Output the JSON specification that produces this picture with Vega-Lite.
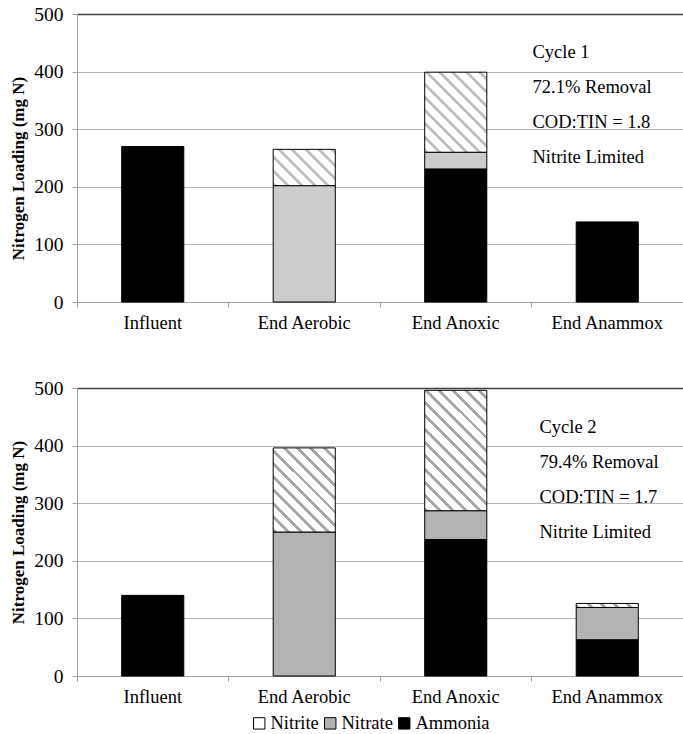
{
  "$schema": "https://vega.github.io/schema/vega-lite/v6.json",
  "background": "white",
  "padding": {"left": 9, "top": 4, "right": 0, "bottom": 0},
  "spacing": 46,
  "datasets": {
    "bars": [
      {"Cycle": "Cycle 1", "Stage": "Influent", "Species": "Ammonia", "Value": 270},
      {"Cycle": "Cycle 1", "Stage": "End Aerobic", "Species": "Nitrate", "Value": 202},
      {"Cycle": "Cycle 1", "Stage": "End Aerobic", "Species": "Nitrite", "Value": 63},
      {"Cycle": "Cycle 1", "Stage": "End Anoxic", "Species": "Ammonia", "Value": 231},
      {"Cycle": "Cycle 1", "Stage": "End Anoxic", "Species": "Nitrate", "Value": 29},
      {"Cycle": "Cycle 1", "Stage": "End Anoxic", "Species": "Nitrite", "Value": 139},
      {"Cycle": "Cycle 1", "Stage": "End Anammox", "Species": "Ammonia", "Value": 139},
      {"Cycle": "Cycle 2", "Stage": "Influent", "Species": "Ammonia", "Value": 140},
      {"Cycle": "Cycle 2", "Stage": "End Aerobic", "Species": "Nitrate", "Value": 250},
      {"Cycle": "Cycle 2", "Stage": "End Aerobic", "Species": "Nitrite", "Value": 146},
      {"Cycle": "Cycle 2", "Stage": "End Anoxic", "Species": "Ammonia", "Value": 237},
      {"Cycle": "Cycle 2", "Stage": "End Anoxic", "Species": "Nitrate", "Value": 50},
      {"Cycle": "Cycle 2", "Stage": "End Anoxic", "Species": "Nitrite", "Value": 209},
      {"Cycle": "Cycle 2", "Stage": "End Anammox", "Species": "Ammonia", "Value": 63},
      {"Cycle": "Cycle 2", "Stage": "End Anammox", "Species": "Nitrate", "Value": 56},
      {"Cycle": "Cycle 2", "Stage": "End Anammox", "Species": "Nitrite", "Value": 7}
    ],
    "notes": [
      {"Cycle": "Cycle 1", "Note": "Cycle 1\n72.1% Removal\nCOD:TIN = 1.8\nNitrite Limited"},
      {"Cycle": "Cycle 2", "Note": "Cycle 2\n79.4% Removal\nCOD:TIN = 1.7\nNitrite Limited"}
    ]
  },
  "vconcat": [
    {
      "width": 606,
      "height": 288,
      "layer": [
        {
          "data": {"name": "bars"},
          "transform": [{"filter": "datum.Cycle === 'Cycle 1'"}],
          "mark": {"type": "bar", "width": {"band": 0.41}, "stroke": "black", "strokeWidth": 1},
          "encoding": {
            "x": {
              "field": "Stage", "type": "nominal",
              "sort": ["Influent", "End Aerobic", "End Anoxic", "End Anammox"],
              "scale": {"paddingInner": 0, "paddingOuter": 0},
              "axis": {"title": null, "labelAngle": 0, "labelFontSize": 18.5, "labelPadding": 6, "tickSize": 5, "bandPosition": 0, "grid": false}
            },
            "y": {
              "field": "Value", "type": "quantitative", "stack": "zero",
              "scale": {"domain": [0, 500]},
              "axis": {
                "title": "Nitrogen Loading (mg N)", "values": [0, 100, 200, 300, 400, 500],
                "labelFontSize": 19.5, "labelPadding": 9, "tickSize": 5,
                "titleFontSize": 17, "titleFontWeight": "bold", "titlePadding": 6, "titleY": 154,
                "grid": true,
                "gridColor": {"condition": {"test": "datum.value === 500", "value": "#404040"}, "value": "#b0b0b0"},
                "gridWidth": {"condition": {"test": "datum.value === 500", "value": 1.5}, "value": 1}
              }
            },
            "order": {"field": "Species", "sort": "ascending"},
            "fill": {
              "field": "Species", "type": "nominal",
              "scale": {"domain": ["Nitrite", "Nitrate", "Ammonia"], "range": ["#ffffff", "#b3b3b3", "#000000"]},
              "legend": {"orient": "none", "legendX": 173, "legendY": 700, "direction": "horizontal", "title": null, "symbolType": "square", "symbolSize": 130, "symbolStrokeColor": "black", "symbolStrokeWidth": 1, "labelFontSize": 18.5, "labelFont": "Liberation Serif, Tinos, Times New Roman, Times, serif", "labelColor": "black", "columnPadding": 2, "labelOffset": 2},
              "condition": [
                {"test": "datum.Species === 'Nitrite' && datum.Stage === 'End Aerobic'", "value": {"gradient": "linear", "x1": 0, "y1": 1, "x2": 2.2348, "y2": -0.3063, "stops": [
                  {"offset": 0, "color": "#bfbfbf"}, {"offset": 0.0214, "color": "#bfbfbf"}, {"offset": 0.0214, "color": "#ffffff"}, {"offset": 0.0714, "color": "#ffffff"},
                  {"offset": 0.0714, "color": "#bfbfbf"}, {"offset": 0.0929, "color": "#bfbfbf"}, {"offset": 0.0929, "color": "#ffffff"}, {"offset": 0.1429, "color": "#ffffff"},
                  {"offset": 0.1429, "color": "#bfbfbf"}, {"offset": 0.1643, "color": "#bfbfbf"}, {"offset": 0.1643, "color": "#ffffff"}, {"offset": 0.2143, "color": "#ffffff"},
                  {"offset": 0.2143, "color": "#bfbfbf"}, {"offset": 0.2357, "color": "#bfbfbf"}, {"offset": 0.2357, "color": "#ffffff"}, {"offset": 0.2857, "color": "#ffffff"},
                  {"offset": 0.2857, "color": "#bfbfbf"}, {"offset": 0.3071, "color": "#bfbfbf"}, {"offset": 0.3071, "color": "#ffffff"}, {"offset": 0.3571, "color": "#ffffff"},
                  {"offset": 0.3571, "color": "#bfbfbf"}, {"offset": 0.3786, "color": "#bfbfbf"}, {"offset": 0.3786, "color": "#ffffff"}, {"offset": 0.4286, "color": "#ffffff"},
                  {"offset": 0.4286, "color": "#bfbfbf"}, {"offset": 0.45, "color": "#bfbfbf"}, {"offset": 0.45, "color": "#ffffff"}, {"offset": 0.5, "color": "#ffffff"},
                  {"offset": 0.5, "color": "#bfbfbf"}, {"offset": 0.5214, "color": "#bfbfbf"}, {"offset": 0.5214, "color": "#ffffff"}, {"offset": 0.5714, "color": "#ffffff"},
                  {"offset": 0.5714, "color": "#bfbfbf"}, {"offset": 0.5929, "color": "#bfbfbf"}, {"offset": 0.5929, "color": "#ffffff"}, {"offset": 0.6429, "color": "#ffffff"},
                  {"offset": 0.6429, "color": "#bfbfbf"}, {"offset": 0.6643, "color": "#bfbfbf"}, {"offset": 0.6643, "color": "#ffffff"}, {"offset": 0.7143, "color": "#ffffff"},
                  {"offset": 0.7143, "color": "#bfbfbf"}, {"offset": 0.7357, "color": "#bfbfbf"}, {"offset": 0.7357, "color": "#ffffff"}, {"offset": 0.7857, "color": "#ffffff"},
                  {"offset": 0.7857, "color": "#bfbfbf"}, {"offset": 0.8071, "color": "#bfbfbf"}, {"offset": 0.8071, "color": "#ffffff"}, {"offset": 0.8571, "color": "#ffffff"},
                  {"offset": 0.8571, "color": "#bfbfbf"}, {"offset": 0.8786, "color": "#bfbfbf"}, {"offset": 0.8786, "color": "#ffffff"}, {"offset": 0.9286, "color": "#ffffff"},
                  {"offset": 0.9286, "color": "#bfbfbf"}, {"offset": 0.95, "color": "#bfbfbf"}, {"offset": 0.95, "color": "#ffffff"}, {"offset": 1, "color": "#ffffff"}
                ]}},
                {"test": "datum.Species === 'Nitrite' && datum.Stage === 'End Anoxic'", "value": {"gradient": "linear", "x1": 0, "y1": 1, "x2": 1.1256, "y2": -0.4519, "stops": [
                  {"offset": 0, "color": "#bfbfbf"}, {"offset": 0.0214, "color": "#bfbfbf"}, {"offset": 0.0214, "color": "#ffffff"}, {"offset": 0.0714, "color": "#ffffff"},
                  {"offset": 0.0714, "color": "#bfbfbf"}, {"offset": 0.0929, "color": "#bfbfbf"}, {"offset": 0.0929, "color": "#ffffff"}, {"offset": 0.1429, "color": "#ffffff"},
                  {"offset": 0.1429, "color": "#bfbfbf"}, {"offset": 0.1643, "color": "#bfbfbf"}, {"offset": 0.1643, "color": "#ffffff"}, {"offset": 0.2143, "color": "#ffffff"},
                  {"offset": 0.2143, "color": "#bfbfbf"}, {"offset": 0.2357, "color": "#bfbfbf"}, {"offset": 0.2357, "color": "#ffffff"}, {"offset": 0.2857, "color": "#ffffff"},
                  {"offset": 0.2857, "color": "#bfbfbf"}, {"offset": 0.3071, "color": "#bfbfbf"}, {"offset": 0.3071, "color": "#ffffff"}, {"offset": 0.3571, "color": "#ffffff"},
                  {"offset": 0.3571, "color": "#bfbfbf"}, {"offset": 0.3786, "color": "#bfbfbf"}, {"offset": 0.3786, "color": "#ffffff"}, {"offset": 0.4286, "color": "#ffffff"},
                  {"offset": 0.4286, "color": "#bfbfbf"}, {"offset": 0.45, "color": "#bfbfbf"}, {"offset": 0.45, "color": "#ffffff"}, {"offset": 0.5, "color": "#ffffff"},
                  {"offset": 0.5, "color": "#bfbfbf"}, {"offset": 0.5214, "color": "#bfbfbf"}, {"offset": 0.5214, "color": "#ffffff"}, {"offset": 0.5714, "color": "#ffffff"},
                  {"offset": 0.5714, "color": "#bfbfbf"}, {"offset": 0.5929, "color": "#bfbfbf"}, {"offset": 0.5929, "color": "#ffffff"}, {"offset": 0.6429, "color": "#ffffff"},
                  {"offset": 0.6429, "color": "#bfbfbf"}, {"offset": 0.6643, "color": "#bfbfbf"}, {"offset": 0.6643, "color": "#ffffff"}, {"offset": 0.7143, "color": "#ffffff"},
                  {"offset": 0.7143, "color": "#bfbfbf"}, {"offset": 0.7357, "color": "#bfbfbf"}, {"offset": 0.7357, "color": "#ffffff"}, {"offset": 0.7857, "color": "#ffffff"},
                  {"offset": 0.7857, "color": "#bfbfbf"}, {"offset": 0.8071, "color": "#bfbfbf"}, {"offset": 0.8071, "color": "#ffffff"}, {"offset": 0.8571, "color": "#ffffff"},
                  {"offset": 0.8571, "color": "#bfbfbf"}, {"offset": 0.8786, "color": "#bfbfbf"}, {"offset": 0.8786, "color": "#ffffff"}, {"offset": 0.9286, "color": "#ffffff"},
                  {"offset": 0.9286, "color": "#bfbfbf"}, {"offset": 0.95, "color": "#bfbfbf"}, {"offset": 0.95, "color": "#ffffff"}, {"offset": 1, "color": "#ffffff"}
                ]}},
                {"test": "datum.Species === 'Nitrate'", "value": "#cccccc"}
              ]
            }
          }
        },
        {
          "data": {"name": "notes"},
          "transform": [{"filter": "datum.Cycle === 'Cycle 1'"}],
          "mark": {"type": "text", "align": "left", "baseline": "middle", "lineBreak": "\n", "lineHeight": 35, "fontSize": 18.5, "font": "Liberation Serif, Tinos, Times New Roman, Times, serif", "color": "black", "dx": 1},
          "encoding": {
            "x": {"datum": "End Anammox", "bandPosition": 0},
            "y": {"datum": 434, "type": "quantitative"},
            "text": {"field": "Note", "type": "nominal"}
          }
        }
      ]
    },
    {
      "width": 606,
      "height": 288,
      "layer": [
        {
          "data": {"name": "bars"},
          "transform": [{"filter": "datum.Cycle === 'Cycle 2'"}],
          "mark": {"type": "bar", "width": {"band": 0.41}, "stroke": "black", "strokeWidth": 1},
          "encoding": {
            "x": {
              "field": "Stage", "type": "nominal",
              "sort": ["Influent", "End Aerobic", "End Anoxic", "End Anammox"],
              "scale": {"paddingInner": 0, "paddingOuter": 0},
              "axis": {"title": null, "labelAngle": 0, "labelFontSize": 18.5, "labelPadding": 6, "tickSize": 5, "bandPosition": 0, "grid": false}
            },
            "y": {
              "field": "Value", "type": "quantitative", "stack": "zero",
              "scale": {"domain": [0, 500]},
              "axis": {
                "title": "Nitrogen Loading (mg N)", "values": [0, 100, 200, 300, 400, 500],
                "labelFontSize": 19.5, "labelPadding": 9, "tickSize": 5,
                "titleFontSize": 17, "titleFontWeight": "bold", "titlePadding": 6,
                "grid": true,
                "gridColor": {"condition": {"test": "datum.value === 500", "value": "#404040"}, "value": "#b0b0b0"},
                "gridWidth": {"condition": {"test": "datum.value === 500", "value": 1.5}, "value": 1}
              }
            },
            "order": {"field": "Species", "sort": "ascending"},
            "fill": {
              "field": "Species", "type": "nominal",
              "scale": {"domain": ["Nitrite", "Nitrate", "Ammonia"], "range": ["#ffffff", "#b3b3b3", "#000000"]},
              "legend": {"orient": "none", "legendX": 173, "legendY": 700, "direction": "horizontal", "title": null, "symbolType": "square", "symbolSize": 130, "symbolStrokeColor": "black", "symbolStrokeWidth": 1, "labelFontSize": 18.5, "labelFont": "Liberation Serif, Tinos, Times New Roman, Times, serif", "labelColor": "black", "columnPadding": 2, "labelOffset": 2},
              "condition": [
                {"test": "datum.Species === 'Nitrite' && datum.Stage === 'End Aerobic'", "value": {"gradient": "linear", "x1": 0, "y1": 1, "x2": 1.058, "y2": -0.4328, "stops": [
                  {"offset": 0, "color": "#a6a6a6"}, {"offset": 0.0214, "color": "#a6a6a6"}, {"offset": 0.0214, "color": "#ffffff"}, {"offset": 0.0714, "color": "#ffffff"},
                  {"offset": 0.0714, "color": "#a6a6a6"}, {"offset": 0.0929, "color": "#a6a6a6"}, {"offset": 0.0929, "color": "#ffffff"}, {"offset": 0.1429, "color": "#ffffff"},
                  {"offset": 0.1429, "color": "#a6a6a6"}, {"offset": 0.1643, "color": "#a6a6a6"}, {"offset": 0.1643, "color": "#ffffff"}, {"offset": 0.2143, "color": "#ffffff"},
                  {"offset": 0.2143, "color": "#a6a6a6"}, {"offset": 0.2357, "color": "#a6a6a6"}, {"offset": 0.2357, "color": "#ffffff"}, {"offset": 0.2857, "color": "#ffffff"},
                  {"offset": 0.2857, "color": "#a6a6a6"}, {"offset": 0.3071, "color": "#a6a6a6"}, {"offset": 0.3071, "color": "#ffffff"}, {"offset": 0.3571, "color": "#ffffff"},
                  {"offset": 0.3571, "color": "#a6a6a6"}, {"offset": 0.3786, "color": "#a6a6a6"}, {"offset": 0.3786, "color": "#ffffff"}, {"offset": 0.4286, "color": "#ffffff"},
                  {"offset": 0.4286, "color": "#a6a6a6"}, {"offset": 0.45, "color": "#a6a6a6"}, {"offset": 0.45, "color": "#ffffff"}, {"offset": 0.5, "color": "#ffffff"},
                  {"offset": 0.5, "color": "#a6a6a6"}, {"offset": 0.5214, "color": "#a6a6a6"}, {"offset": 0.5214, "color": "#ffffff"}, {"offset": 0.5714, "color": "#ffffff"},
                  {"offset": 0.5714, "color": "#a6a6a6"}, {"offset": 0.5929, "color": "#a6a6a6"}, {"offset": 0.5929, "color": "#ffffff"}, {"offset": 0.6429, "color": "#ffffff"},
                  {"offset": 0.6429, "color": "#a6a6a6"}, {"offset": 0.6643, "color": "#a6a6a6"}, {"offset": 0.6643, "color": "#ffffff"}, {"offset": 0.7143, "color": "#ffffff"},
                  {"offset": 0.7143, "color": "#a6a6a6"}, {"offset": 0.7357, "color": "#a6a6a6"}, {"offset": 0.7357, "color": "#ffffff"}, {"offset": 0.7857, "color": "#ffffff"},
                  {"offset": 0.7857, "color": "#a6a6a6"}, {"offset": 0.8071, "color": "#a6a6a6"}, {"offset": 0.8071, "color": "#ffffff"}, {"offset": 0.8571, "color": "#ffffff"},
                  {"offset": 0.8571, "color": "#a6a6a6"}, {"offset": 0.8786, "color": "#a6a6a6"}, {"offset": 0.8786, "color": "#ffffff"}, {"offset": 0.9286, "color": "#ffffff"},
                  {"offset": 0.9286, "color": "#a6a6a6"}, {"offset": 0.95, "color": "#a6a6a6"}, {"offset": 0.95, "color": "#ffffff"}, {"offset": 1, "color": "#ffffff"}
                ]}},
                {"test": "datum.Species === 'Nitrite' && datum.Stage === 'End Anoxic'", "value": {"gradient": "linear", "x1": 0, "y1": 1, "x2": 0.6301, "y2": -0.2215, "stops": [
                  {"offset": 0, "color": "#a6a6a6"}, {"offset": 0.0214, "color": "#a6a6a6"}, {"offset": 0.0214, "color": "#ffffff"}, {"offset": 0.0714, "color": "#ffffff"},
                  {"offset": 0.0714, "color": "#a6a6a6"}, {"offset": 0.0929, "color": "#a6a6a6"}, {"offset": 0.0929, "color": "#ffffff"}, {"offset": 0.1429, "color": "#ffffff"},
                  {"offset": 0.1429, "color": "#a6a6a6"}, {"offset": 0.1643, "color": "#a6a6a6"}, {"offset": 0.1643, "color": "#ffffff"}, {"offset": 0.2143, "color": "#ffffff"},
                  {"offset": 0.2143, "color": "#a6a6a6"}, {"offset": 0.2357, "color": "#a6a6a6"}, {"offset": 0.2357, "color": "#ffffff"}, {"offset": 0.2857, "color": "#ffffff"},
                  {"offset": 0.2857, "color": "#a6a6a6"}, {"offset": 0.3071, "color": "#a6a6a6"}, {"offset": 0.3071, "color": "#ffffff"}, {"offset": 0.3571, "color": "#ffffff"},
                  {"offset": 0.3571, "color": "#a6a6a6"}, {"offset": 0.3786, "color": "#a6a6a6"}, {"offset": 0.3786, "color": "#ffffff"}, {"offset": 0.4286, "color": "#ffffff"},
                  {"offset": 0.4286, "color": "#a6a6a6"}, {"offset": 0.45, "color": "#a6a6a6"}, {"offset": 0.45, "color": "#ffffff"}, {"offset": 0.5, "color": "#ffffff"},
                  {"offset": 0.5, "color": "#a6a6a6"}, {"offset": 0.5214, "color": "#a6a6a6"}, {"offset": 0.5214, "color": "#ffffff"}, {"offset": 0.5714, "color": "#ffffff"},
                  {"offset": 0.5714, "color": "#a6a6a6"}, {"offset": 0.5929, "color": "#a6a6a6"}, {"offset": 0.5929, "color": "#ffffff"}, {"offset": 0.6429, "color": "#ffffff"},
                  {"offset": 0.6429, "color": "#a6a6a6"}, {"offset": 0.6643, "color": "#a6a6a6"}, {"offset": 0.6643, "color": "#ffffff"}, {"offset": 0.7143, "color": "#ffffff"},
                  {"offset": 0.7143, "color": "#a6a6a6"}, {"offset": 0.7357, "color": "#a6a6a6"}, {"offset": 0.7357, "color": "#ffffff"}, {"offset": 0.7857, "color": "#ffffff"},
                  {"offset": 0.7857, "color": "#a6a6a6"}, {"offset": 0.8071, "color": "#a6a6a6"}, {"offset": 0.8071, "color": "#ffffff"}, {"offset": 0.8571, "color": "#ffffff"},
                  {"offset": 0.8571, "color": "#a6a6a6"}, {"offset": 0.8786, "color": "#a6a6a6"}, {"offset": 0.8786, "color": "#ffffff"}, {"offset": 0.9286, "color": "#ffffff"},
                  {"offset": 0.9286, "color": "#a6a6a6"}, {"offset": 0.95, "color": "#a6a6a6"}, {"offset": 0.95, "color": "#ffffff"}, {"offset": 1, "color": "#ffffff"}
                ]}},
                {"test": "datum.Species === 'Nitrite' && datum.Stage === 'End Anammox'", "value": {"gradient": "linear", "x1": 0, "y1": 1, "x2": 2.986, "y2": 0.8077, "stops": [
                  {"offset": 0, "color": "#a6a6a6"}, {"offset": 0.0214, "color": "#a6a6a6"}, {"offset": 0.0214, "color": "#ffffff"}, {"offset": 0.0714, "color": "#ffffff"},
                  {"offset": 0.0714, "color": "#a6a6a6"}, {"offset": 0.0929, "color": "#a6a6a6"}, {"offset": 0.0929, "color": "#ffffff"}, {"offset": 0.1429, "color": "#ffffff"},
                  {"offset": 0.1429, "color": "#a6a6a6"}, {"offset": 0.1643, "color": "#a6a6a6"}, {"offset": 0.1643, "color": "#ffffff"}, {"offset": 0.2143, "color": "#ffffff"},
                  {"offset": 0.2143, "color": "#a6a6a6"}, {"offset": 0.2357, "color": "#a6a6a6"}, {"offset": 0.2357, "color": "#ffffff"}, {"offset": 0.2857, "color": "#ffffff"},
                  {"offset": 0.2857, "color": "#a6a6a6"}, {"offset": 0.3071, "color": "#a6a6a6"}, {"offset": 0.3071, "color": "#ffffff"}, {"offset": 0.3571, "color": "#ffffff"},
                  {"offset": 0.3571, "color": "#a6a6a6"}, {"offset": 0.3786, "color": "#a6a6a6"}, {"offset": 0.3786, "color": "#ffffff"}, {"offset": 0.4286, "color": "#ffffff"},
                  {"offset": 0.4286, "color": "#a6a6a6"}, {"offset": 0.45, "color": "#a6a6a6"}, {"offset": 0.45, "color": "#ffffff"}, {"offset": 0.5, "color": "#ffffff"},
                  {"offset": 0.5, "color": "#a6a6a6"}, {"offset": 0.5214, "color": "#a6a6a6"}, {"offset": 0.5214, "color": "#ffffff"}, {"offset": 0.5714, "color": "#ffffff"},
                  {"offset": 0.5714, "color": "#a6a6a6"}, {"offset": 0.5929, "color": "#a6a6a6"}, {"offset": 0.5929, "color": "#ffffff"}, {"offset": 0.6429, "color": "#ffffff"},
                  {"offset": 0.6429, "color": "#a6a6a6"}, {"offset": 0.6643, "color": "#a6a6a6"}, {"offset": 0.6643, "color": "#ffffff"}, {"offset": 0.7143, "color": "#ffffff"},
                  {"offset": 0.7143, "color": "#a6a6a6"}, {"offset": 0.7357, "color": "#a6a6a6"}, {"offset": 0.7357, "color": "#ffffff"}, {"offset": 0.7857, "color": "#ffffff"},
                  {"offset": 0.7857, "color": "#a6a6a6"}, {"offset": 0.8071, "color": "#a6a6a6"}, {"offset": 0.8071, "color": "#ffffff"}, {"offset": 0.8571, "color": "#ffffff"},
                  {"offset": 0.8571, "color": "#a6a6a6"}, {"offset": 0.8786, "color": "#a6a6a6"}, {"offset": 0.8786, "color": "#ffffff"}, {"offset": 0.9286, "color": "#ffffff"},
                  {"offset": 0.9286, "color": "#a6a6a6"}, {"offset": 0.95, "color": "#a6a6a6"}, {"offset": 0.95, "color": "#ffffff"}, {"offset": 1, "color": "#ffffff"}
                ]}}
              ]
            }
          }
        },
        {
          "data": {"name": "notes"},
          "transform": [{"filter": "datum.Cycle === 'Cycle 2'"}],
          "mark": {"type": "text", "align": "left", "baseline": "middle", "lineBreak": "\n", "lineHeight": 35, "fontSize": 18.5, "font": "Liberation Serif, Tinos, Times New Roman, Times, serif", "color": "black", "dx": 8},
          "encoding": {
            "x": {"datum": "End Anammox", "bandPosition": 0},
            "y": {"datum": 432, "type": "quantitative"},
            "text": {"field": "Note", "type": "nominal"}
          }
        }
      ]
    }
  ],
  "config": {
    "font": "Liberation Serif, Tinos, Times New Roman, Times, serif",
    "view": {"stroke": null},
    "axis": {"labelFont": "Liberation Serif, Tinos, Times New Roman, Times, serif", "labelColor": "black", "titleFont": "Liberation Serif, Tinos, Times New Roman, Times, serif", "titleColor": "black", "domainColor": "#a0a0a0", "tickColor": "#a0a0a0"}
  }
}
